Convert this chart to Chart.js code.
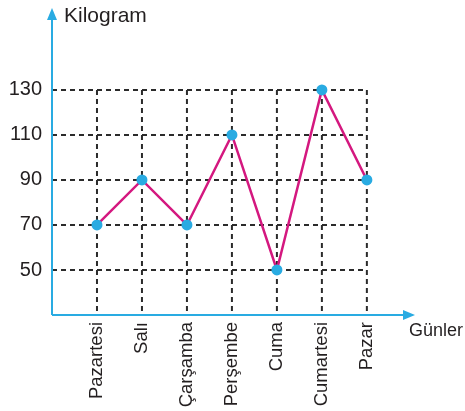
<!DOCTYPE html>
<html>
<head>
<meta charset="utf-8">
<script src="https://cdn.jsdelivr.net/npm/chart.js@4"></script>
<style>
  body { margin: 0; background: #fff; }
  canvas { display: block; }
</style>
</head>
<body>
<canvas id="grafik" width="465" height="411"></canvas>
<script>
const gunler = ['Pazartesi', 'Salı', 'Çarşamba', 'Perşembe', 'Cuma', 'Cumartesi', 'Pazar'];
const kilogram = [70, 90, 70, 110, 50, 130, 90];
const yTikler = [50, 70, 90, 110, 130];
const yEksenAdi = 'Kilogram';
const xEksenAdi = 'Günler';

const mavi = '#29abe2';
const pembe = '#d4187f';
const yaziRengi = '#231f20';

// kesikli izgara, oklu eksenler ve eksen adlari
const eksenCizici = {
  id: 'eksenCizici',
  beforeDatasetsDraw(chart) {
    const ctx = chart.ctx;
    const x = chart.scales.x;
    const y = chart.scales.y;
    const area = chart.chartArea;
    const ustY = y.getPixelForValue(yTikler[yTikler.length - 1]);
    const sonX = x.getPixelForValue(gunler.length - 1);

    ctx.save();
    ctx.strokeStyle = '#2b2b2b';
    ctx.lineWidth = 2;
    ctx.setLineDash([5, 4]);
    yTikler.forEach(v => {
      const py = y.getPixelForValue(v);
      ctx.beginPath();
      ctx.moveTo(area.left, py);
      ctx.lineTo(sonX, py);
      ctx.stroke();
    });
    gunler.forEach((g, i) => {
      const px = x.getPixelForValue(i);
      ctx.beginPath();
      ctx.moveTo(px, ustY);
      ctx.lineTo(px, area.bottom);
      ctx.stroke();
    });
    ctx.setLineDash([]);

    // eksenler
    ctx.strokeStyle = mavi;
    ctx.fillStyle = mavi;
    ctx.lineWidth = 2;
    ctx.beginPath();
    ctx.moveTo(area.left, area.bottom);
    ctx.lineTo(area.left, area.top + 8);
    ctx.moveTo(area.left, area.bottom);
    ctx.lineTo(area.right - 8, area.bottom);
    ctx.stroke();

    ctx.beginPath();
    ctx.moveTo(area.left, area.top);
    ctx.lineTo(area.left - 5, area.top + 12);
    ctx.lineTo(area.left + 5, area.top + 12);
    ctx.closePath();
    ctx.fill();

    ctx.beginPath();
    ctx.moveTo(area.right, area.bottom);
    ctx.lineTo(area.right - 12, area.bottom - 5);
    ctx.lineTo(area.right - 12, area.bottom + 5);
    ctx.closePath();
    ctx.fill();

    ctx.fillStyle = yaziRengi;
    ctx.textBaseline = 'middle';
    ctx.textAlign = 'left';
    ctx.font = '21px "Liberation Sans", Arial, sans-serif';
    ctx.fillText(yEksenAdi, area.left + 12, area.top + 8);
    ctx.font = '18px "Liberation Sans", Arial, sans-serif';
    ctx.fillText(xEksenAdi, area.right - 6, area.bottom + 16);
    ctx.restore();
  }
};

const ctx = document.getElementById('grafik').getContext('2d');
const chart = new Chart(ctx, {
  type: 'line',
  data: {
    datasets: [{
      data: kilogram.map((v, i) => ({ x: i, y: v })),
      borderColor: pembe,
      borderWidth: 2.5,
      pointBackgroundColor: mavi,
      pointBorderWidth: 0,
      pointRadius: 5.5,
      tension: 0,
      clip: false
    }]
  },
  options: {
    responsive: false,
    animation: false,
    layout: { padding: { top: 8, right: 50, left: 0, bottom: 0 } },
    plugins: { legend: { display: false }, tooltip: { enabled: false } },
    scales: {
      x: {
        type: 'linear',
        min: -1,
        max: 7.07,
        grid: { display: false, drawTicks: false },
        border: { display: false },
        afterBuildTicks(scale) {
          scale.ticks = gunler.map((g, i) => ({ value: i }));
        },
        afterFit(scale) {
          scale.height = 96;
          scale.paddingLeft = 0;
          scale.paddingRight = 0;
        },
        ticks: {
          autoSkip: false,
          minRotation: 90,
          maxRotation: 90,
          padding: 7,
          color: yaziRengi,
          font: { family: '"Liberation Sans", Arial, sans-serif', size: 18.5 },
          callback: v => gunler[v]
        }
      },
      y: {
        type: 'linear',
        min: 30,
        max: 166.4,
        grid: { display: false, drawTicks: false },
        border: { display: false },
        afterBuildTicks(scale) {
          scale.ticks = yTikler.map(v => ({ value: v }));
        },
        afterFit(scale) {
          scale.width = 52;
          scale.paddingTop = 0;
          scale.paddingBottom = 0;
        },
        ticks: {
          padding: 10,
          color: yaziRengi,
          font: { family: '"Liberation Sans", Arial, sans-serif', size: 20 }
        }
      }
    }
  },
  plugins: [eksenCizici]
});
</script>
</body>
</html>
